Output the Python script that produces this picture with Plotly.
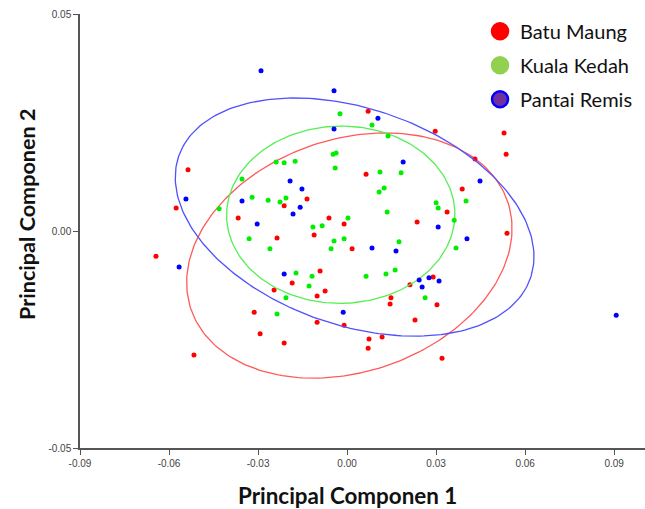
import numpy as np
import plotly.graph_objects as go

# ---- data ----
batu_x = [-0.0644, -0.0576, -0.0536, -0.0516, -0.0367, -0.0236, -0.0212, -0.0135, -0.0061, -0.0111,
          -0.0246, -0.0313, -0.0293, -0.0212, -0.0185, -0.0101, -0.0091, -0.0074, -0.0101, -0.0010,
          0.0017, -0.0010, 0.0074, 0.0071, 0.0118, 0.0148, 0.0145, 0.0212, 0.0229, 0.0236,
          0.0290, 0.0303, 0.0320, 0.0539, 0.0071, 0.0297, 0.0529, 0.0536, 0.0431, 0.0064,
          0.0388, 0.0337]
batu_y = [-0.0058, 0.0053, 0.0141, -0.0286, 0.0030, -0.0016, 0.0058, 0.0074, 0.0030, -0.0009,
          -0.0136, -0.0187, -0.0237, -0.0258, -0.0120, -0.0150, -0.0092, -0.0138, -0.0210, 0.0016,
          -0.0041, -0.0217, -0.0249, -0.0270, -0.0244, -0.0154, -0.0168, -0.0124, -0.0205, 0.0021,
          -0.0106, -0.0170, -0.0293, -0.0005, 0.0276, 0.0230, 0.0226, 0.0177, 0.0166, 0.0131,
          0.0097, 0.0044]

kuala_x = [-0.0431, -0.0354, -0.0320, -0.0330, -0.0266, -0.0239, -0.0212, -0.0175, -0.0226, -0.0206,
           -0.0260, -0.0115, -0.0084, -0.0024, 0.0084, 0.0138, -0.0047, -0.0037, -0.0040, 0.0111,
           0.0182, 0.0125, 0.0108, 0.0135, 0.0300, 0.0307, 0.0401, 0.0003, 0.0361, -0.0044,
           -0.0010, 0.0175, -0.0054, 0.0367, -0.0236, -0.0172, -0.0118, -0.0128, -0.0206, 0.0064,
           0.0131, 0.0162, 0.0263]
kuala_y = [0.0051, 0.0120, 0.0078, -0.0018, 0.0071, 0.0159, 0.0157, 0.0161, 0.0067, 0.0076,
           -0.0041, 0.0009, 0.0012, 0.0270, 0.0244, 0.0219, 0.0177, 0.0180, 0.0145, 0.0136,
           0.0134, 0.0099, 0.0090, 0.0044, 0.0065, 0.0053, 0.0069, 0.0030, 0.0025, -0.0023,
           -0.0018, -0.0025, -0.0041, -0.0039, -0.0191, -0.0097, -0.0104, -0.0127, -0.0154, -0.0104,
           -0.0099, -0.0090, -0.0154]

remis_x = [-0.0290, -0.0543, -0.0192, -0.0152, -0.0354, -0.0158, -0.0182, -0.0303, -0.0044, 0.0104,
           -0.0044, 0.0189, 0.0448, 0.0307, 0.0404, 0.0084, -0.0566, -0.0212, 0.0165, -0.0013,
           0.0243, 0.0276, 0.0253, 0.0310, 0.0907]
remis_y = [0.0369, 0.0074, 0.0115, 0.0097, 0.0069, 0.0055, 0.0039, 0.0016, 0.0323, 0.0260,
           0.0235, 0.0159, 0.0115, 0.0009, -0.0018, -0.0039, -0.0083, -0.0099, -0.0046, -0.0187,
           -0.0113, -0.0108, -0.0129, -0.0115, -0.0194]

names = ["Batu Maung", "Kuala Kedah", "Pantai Remis"]
point_colors = ["#ff0000", "#00ee00", "#0000ff"]
ellipse_colors = ["#ff5a5a", "#55ee55", "#5050ff"]
x_ticks = [-0.09, -0.06, -0.03, 0.00, 0.03, 0.06, 0.09]
y_ticks = [-0.05, 0.00, 0.05]

groups = [(batu_x, batu_y), (kuala_x, kuala_y), (remis_x, remis_y)]

fig = go.Figure()


def ellipse(xs, ys, chi2=3.219, n=240):
    pts = np.column_stack([xs, ys])
    mu = pts.mean(axis=0)
    cov = np.cov(pts, rowvar=False)
    vals, vecs = np.linalg.eigh(cov)
    t = np.linspace(0, 2 * np.pi, n)
    circ = np.vstack([np.cos(t), np.sin(t)])
    e = vecs @ (np.sqrt(chi2 * vals)[:, None] * circ)
    return mu[0] + e[0], mu[1] + e[1]


for (xs, ys), c, ec in zip(groups, point_colors, ellipse_colors):
    ex, ey = ellipse(xs, ys)
    fig.add_trace(go.Scatter(x=ex, y=ey, mode="lines", line=dict(color=ec, width=1.3),
                             showlegend=False, hoverinfo="skip"))
    fig.add_trace(go.Scatter(x=xs, y=ys, mode="markers",
                             marker=dict(color=c, size=5), showlegend=False))

# legend entries
leg_fill = ["#ff0000", "#92d050", "#7030a0"]
leg_line = ["#ff0000", "#92d050", "#0000ff"]
for nm, f, l in zip(names, leg_fill, leg_line):
    fig.add_trace(go.Scatter(x=[None], y=[None], mode="markers", name=nm, legendgroup=nm,
                             marker=dict(color=f, size=18, line=dict(color=l, width=2.5))))

title_font = dict(family="Lato, Open Sans, sans-serif", size=22.4, color="#111")
fig.update_layout(
    width=645, height=509,
    margin=dict(l=80, r=0, t=14, b=61, autoexpand=False),
    paper_bgcolor="white", plot_bgcolor="white",
    showlegend=True,
    legend=dict(x=0.708, y=1.005, xanchor="left", yanchor="top",
                font=dict(family="Lato, Open Sans, sans-serif", size=20, color="#111"),
                tracegroupgap=5, bgcolor="rgba(0,0,0,0)"),
    xaxis=dict(range=[-0.09, 0.1004], tickvals=x_ticks, automargin=False,
               ticktext=[f"{v:.2f}" for v in x_ticks],
               showgrid=False, zeroline=False, showline=True, linecolor="#555", linewidth=1.5,
               ticks="outside", ticklen=5, tickcolor="#555",
               tickfont=dict(family="Liberation Sans Narrow, Arial Narrow, sans-serif", size=10, color="#444")),
    yaxis=dict(range=[-0.05, 0.05], tickvals=y_ticks, automargin=False,
               ticktext=[f"{v:.2f}" for v in y_ticks],
               showgrid=False, zeroline=False, showline=True, linecolor="#555", linewidth=1.5,
               ticks="outside", ticklen=5, tickcolor="#555",
               tickfont=dict(family="Liberation Sans Narrow, Arial Narrow, sans-serif", size=10, color="#444")),
    annotations=[
        dict(text="<b>Principal Componen 1</b>", xref="paper", yref="paper",
             x=(347 - 80) / 565, y=-(495 - 448) / 434, xanchor="center", yanchor="middle",
             showarrow=False, font=title_font),
        dict(text="<b>Principal Componen 2</b>", xref="paper", yref="paper",
             x=-(80 - 27) / 565, y=(448 - 214) / 434, xanchor="center", yanchor="middle", textangle=-90,
             showarrow=False, font=dict(title_font, size=21.6)),
    ],
)

fig.write_html("out.html", config={"displayModeBar": False},
               post_script="document.body.style.margin='0';")
